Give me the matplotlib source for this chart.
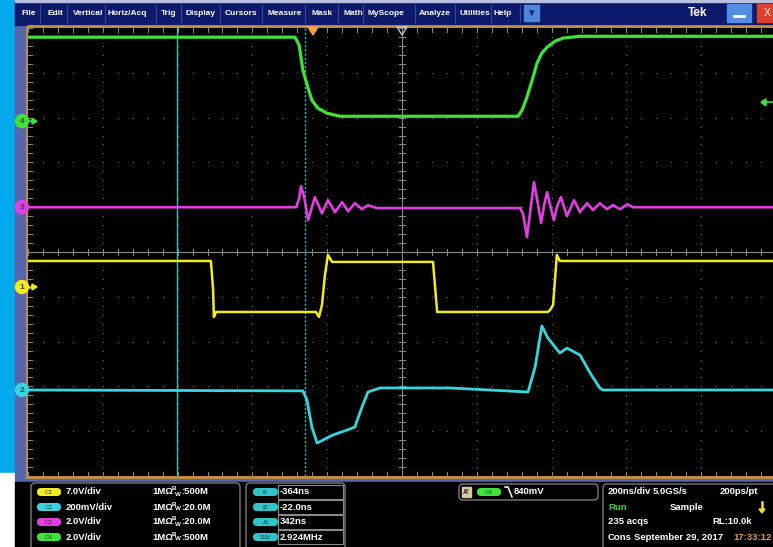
import matplotlib
matplotlib.use('Agg')
import matplotlib.pyplot as plt
from matplotlib.patches import Rectangle, FancyBboxPatch, Circle, Polygon

plt.rcParams['font.family'] = ['Liberation Sans', 'DejaVu Sans']

# waveforms: time in ns (0 = trigger point), level in volts
c4_t = [-762, -48, -37, -27, -13, -3, 13, 37, 72, 548, 559, 572, 586, 599, 612, 626, 647, 669, 714, 1238]
c4_v = [3.75, 3.75, 3.39, 2.28, 1.47, 0.94, 0.58, 0.36, 0.22, 0.22, 0.49, 1.07, 1.83, 2.59, 3.04, 3.30, 3.57, 3.71, 3.79, 3.79]

c3_t = [-762, -45, -37, -32, -24, -13, -5, 5, 24, 40, 59, 78, 94, 112, 131, 147, 171, 554, 562, 572,
        583, 591, 602, 610, 618, 626, 636, 644, 652, 663, 679, 698, 714, 733, 749, 767, 786, 802, 821, 840, 856, 1238]
c3_v = [0, 0, 0.40, 0.94, 0.49, -0.58, -0.13, 0.45, -0.27, 0.31, -0.22, 0.22, -0.18, 0.18, -0.09, 0.09, -0.04, -0.04, -0.31, -1.34,
        0.09, 1.12, 0.09, -0.71, 0.09, 0.67, -0.04, -0.58, 0, 0.45, -0.40, 0.31, -0.22, 0.18, -0.13, 0.18, -0.09, 0.09, -0.09, 0.13, 0, 0]

c1_t = [-762, -273, -267, -265, -259, 8, 16, 24, 32, 40, 51, 321, 326, 332, 628, 634, 642, 647, 652, 660, 1238]
c1_v = [4.06, 4.06, -0.47, -4.69, -3.91, -3.91, -4.69, -2.81, 1.88, 5.0, 3.91, 3.91, 0.31, -3.91, -3.91, -3.59, -2.81, 1.09, 5.0, 4.06, 4.06]

c2_t = [-762, -27, -16, -3, 11, 27, 53, 91, 112, 131, 147, 179, 366, 575, 594, 612, 628, 660, 679, 714, 741, 767, 775, 1238]
c2_mv = [0, -4, -45, -165, -237, -223, -201, -179, -165, -76, -9, 9, 9, -9, 103, 286, 232, 165, 187, 156, 76, 9, 0, 0]

# channel settings
scale = {'C1': 7.0, 'C2': 200.0, 'C3': 2.0, 'C4': 2.0}     # per div
offset = {'C1': -0.78, 'C2': -3.08, 'C3': 1.0, 'C4': 2.92}  # ground marker, div
col = {'C1': '#f2ec1e', 'C2': '#35d6e0', 'C3': '#e23ee2', 'C4': '#3ce43a'}

cursor_t1, cursor_t2 = -364, -22
trig_level = 0.84  # V on C4

W, H = 773, 547
fig = plt.figure(figsize=(W / 100, H / 100), dpi=100)
fig.patch.set_facecolor('black')

bg = fig.add_axes([0, 0, 1, 1])
bg.set_xlim(0, W)
bg.set_ylim(H, 0)
bg.axis('off')

# outer frame
bg.add_patch(Rectangle((0, 0), 15, 473, color='#03a9ec'))
bg.add_patch(Rectangle((0, 473), 15, 80, color='white'))
bg.add_patch(Rectangle((15, 0), W, 483, color='#5666ad'))
bg.add_patch(Rectangle((15, 0), W, 25, color='#0d1a6c'))
bg.add_patch(Rectangle((15, 0), W, 2, color='#b9c0dc'))
bg.add_patch(Rectangle((15, 482), W, 70, color='black'))
bg.add_patch(Rectangle((27, 26), 760, 451, fill=False, ec='#c98f34', lw=2))

# menu bar
menus = ['File', 'Edit', 'Vertical', 'Horiz/Acq', 'Trig', 'Display', 'Cursors', 'Measure',
         'Mask', 'Math', 'MyScope', 'Analyze', 'Utilities', 'Help']
menu_x = [21, 47, 73, 108, 161, 186, 225, 268, 312, 343, 368, 419, 460, 494]
for m, x in zip(menus, menu_x):
    bg.text(x, 13.5, m, color='white', fontsize=6, fontweight='bold', va='center')
for x in [40, 67, 105, 156, 181, 220, 262, 305, 338, 363, 415, 455, 491, 520]:
    bg.plot([x, x], [5, 22], color='#3a4a96', lw=0.8)
bg.add_patch(Rectangle((524, 5), 15, 16, color='#4f86d8'))
bg.text(531.5, 13, '▾', color='#0d1a6c', fontsize=8, ha='center', va='center', family='DejaVu Sans')
bg.text(698, 13, 'Tek', color='white', fontsize=8.5, fontweight='bold', va='center', ha='center')
bg.add_patch(Rectangle((727, 4), 24, 18, color='#4f8ee0'))
bg.plot([734, 744], [16, 16], color='white', lw=2)
bg.add_patch(Rectangle((757, 4), 20, 18, color='#e0402a'))
bg.text(767, 13, 'X', color='white', fontsize=7.5, ha='center', va='center')

# scope graticule
x0, x1 = 28, 776
y0, y1 = 28, 476
sc = fig.add_axes([x0 / W, 1 - y1 / H, (x1 - x0) / W, (y1 - y0) / H])
sc.set_facecolor('black')
sc.set_xlim(-762, 1238)
sc.set_ylim(-5, 5)
for s in sc.spines.values():
    s.set_visible(False)
sc.set_xticks([])
sc.set_yticks([])

tc = 238  # centre of screen, ns
div_x = [-762 + 200 * k for k in range(11)]
minor_x = [-762 + 40 * k for k in range(51)]
div_y = list(range(-5, 6))
minor_y = [-5 + 0.2 * k for k in range(51)]
gcol = '#6a6a6a'
for xv in div_x[1:-1]:
    if xv != tc:
        sc.scatter([xv] * len(minor_y), minor_y, s=0.8, color=gcol, lw=0)
for yv in div_y[1:-1]:
    if yv != 0:
        sc.scatter(minor_x, [yv] * len(minor_x), s=0.8, color=gcol, lw=0)
sc.axvline(tc, color='#8a8a8a', lw=0.8)
sc.axhline(0, color='#8a8a8a', lw=0.8)
for xv in minor_x:
    sc.plot([xv, xv], [-0.07, 0.07], color='#8a8a8a', lw=0.7)
    sc.plot([xv, xv], [4.9, 5], color='#8a8a8a', lw=0.7)
    sc.plot([xv, xv], [-5, -4.9], color='#8a8a8a', lw=0.7)
for yv in minor_y:
    sc.plot([tc - 8, tc + 8], [yv, yv], color='#8a8a8a', lw=0.7)
    sc.plot([-762, -750], [yv, yv], color='#8a8a8a', lw=0.7)

# cursors
sc.axvline(cursor_t1, color='#2fc4c8', lw=1.0)
sc.axvline(cursor_t2, color='#2fc4c8', lw=1.0, ls=(0, (1.5, 1.5)))

# traces
sc.plot(c4_t, [offset['C4'] + v / scale['C4'] for v in c4_v], color=col['C4'], lw=2.3, solid_joinstyle='round')
sc.plot(c3_t, [offset['C3'] + v / scale['C3'] for v in c3_v], color=col['C3'], lw=1.9, solid_joinstyle='round')
sc.plot(c1_t, [offset['C1'] + v / scale['C1'] for v in c1_v], color=col['C1'], lw=1.8, solid_joinstyle='round')
sc.plot(c2_t, [offset['C2'] + v / scale['C2'] for v in c2_mv], color=col['C2'], lw=2.0, solid_joinstyle='round')

# foreground markers
fg = fig.add_axes([0, 0, 1, 1])
fg.set_xlim(0, W)
fg.set_ylim(H, 0)
fg.axis('off')
fg.patch.set_alpha(0)


def ypix(d):
    return 252 - d * 44.8


for ch, num in [('C4', '4'), ('C3', '3'), ('C1', '1'), ('C2', '2')]:
    yy = ypix(offset[ch])
    fg.add_patch(Circle((22, yy), 6.5, color=col[ch]))
    fg.text(22, yy + 0.5, num, fontsize=6, ha='center', va='center', color='#404040', fontweight='bold')
    if ch in ('C4', 'C1'):
        fg.plot([28, 33], [yy, yy], color=col[ch], lw=1.2)
        fg.add_patch(Polygon([[32, yy - 3], [37, yy], [32, yy + 3]], color=col[ch]))

# trigger level arrow (right) and time markers (top)
ty = ypix(offset['C4'] + trig_level / scale['C4'])
fg.add_patch(Polygon([[766, ty - 3.5], [761, ty], [766, ty + 3.5]], color=col['C4']))
fg.plot([765, 772], [ty, ty], color=col['C4'], lw=1.2)
fg.add_patch(Polygon([[308, 27], [318, 27], [313, 35]], color='#f2a23a'))
fg.add_patch(Polygon([[397, 27], [407, 27], [402, 35]], fill=False, ec='#d0d0d0', lw=0.9))

# bottom panel
def box(x, y, w, h):
    fg.add_patch(FancyBboxPatch((x, y), w, h, boxstyle='round,pad=0,rounding_size=4',
                                fill=False, ec='#7a7a7a', lw=1))


def pill(x, y, w, c, label, tc='#303030'):
    fg.add_patch(FancyBboxPatch((x, y - 4), w, 8, boxstyle='round,pad=0,rounding_size=4',
                                color=c, lw=0))
    fg.text(x + w / 2, y + 0.3, label, fontsize=4.5, ha='center', va='center', color=tc)


tfont = dict(color='white', fontsize=6.8, fontweight='bold', va='center')
box(31, 483, 209, 70)
rows_y = [492, 507, 522, 537]
chs = ['C1', 'C2', 'C3', 'C4']
vdiv = ['7.0V/div', '200mV/div', '2.0V/div', '2.0V/div']
bw = ['500M', '20.0M', '20.0M', '500M']
for ch, vd, b, yy in zip(chs, vdiv, bw, rows_y):
    pill(37, yy, 24, col[ch], ch)
    fg.text(66, yy, vd, **tfont)
    fg.text(152, yy, '1MΩ', **tfont)
    fg.text(172, yy - 3, 'B', color='white', fontsize=4.5, fontweight='bold', va='center')
    fg.text(175, yy + 2, 'W', color='white', fontsize=4.5, fontweight='bold', va='center')
    fg.text(181, yy, ':' + b, **tfont)

box(246, 483, 99, 70)
cur_lab = ['t1', 't2', 'Δt', '1/Δt']
cur_val = ['-364ns', '-22.0ns', '342ns', '2.924MHz']
for lab, val, yy in zip(cur_lab, cur_val, rows_y):
    pill(253, yy, 25, '#2fc4c8', lab)
    fg.add_patch(Rectangle((278, yy - 7), 65, 14, fill=False, ec='#8a8a8a', lw=0.8))
    fg.text(280, yy, val, **tfont)

box(459, 484, 139, 16)
fg.add_patch(Rectangle((462, 487), 9, 10, color='#d9c8a0'))
fg.text(466.5, 492, "A'", fontsize=5, color='#202020', ha='center', va='center', fontweight='bold')
pill(477, 492, 24, col['C4'], 'C4')
fg.plot([505, 508, 512], [487, 487, 497], color='white', lw=1.1)
fg.text(514, 492, '840mV', **tfont)

box(603, 484, 180, 70)
fg.text(608, 492, '200ns/div', **tfont)
fg.text(653, 492, '5.0GS/s', **tfont)
fg.text(720, 492, '200ps/pt', **tfont)
fg.text(608, 507, 'Run', color='#2ed82e', fontsize=6.8, fontweight='bold', va='center')
fg.text(670, 507, 'Sample', **tfont)
fg.plot([762, 762], [502, 510], color='#f2e21e', lw=1.8)
fg.add_patch(Polygon([[759, 509], [765, 509], [762, 513]], color='#f2e21e'))
fg.text(608, 522, '235 acqs', **tfont)
fg.text(712, 522, 'RL:10.0k', **tfont)
fg.text(608, 537, 'Cons', **tfont)
fg.text(634, 537, 'September 29, 2017', **tfont)
fg.text(733, 537, '17:33:12', color='#e8a030', fontsize=6.8, fontweight='bold', va='center')

fig.savefig('out.png', dpi=100, facecolor='black')
